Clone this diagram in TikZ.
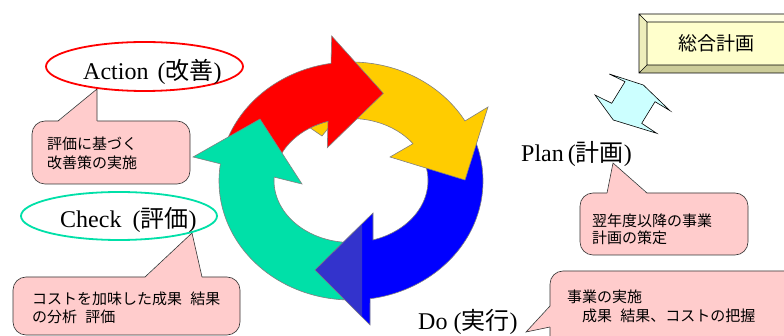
\documentclass[tikz,border=0pt]{standalone}
\usepackage{fontspec}
\setmainfont{Liberation Serif}
\newfontfamily\jp{Noto Sans CJK JP}
\definecolor{ared}{HTML}{FF0000}
\definecolor{ayellow}{HTML}{FFCC00}
\definecolor{ablue}{HTML}{0000FF}
\definecolor{adarkblue}{HTML}{3333CC}
\definecolor{agreen}{HTML}{00E0A8}
\definecolor{outl}{HTML}{808080}
\definecolor{pinkfill}{HTML}{FFCCCC}
\definecolor{cyanfill}{HTML}{CCFFFF}
\definecolor{bevface}{HTML}{FFFFCC}
\definecolor{bevlight}{HTML}{FFFFE2}
\definecolor{bevside}{HTML}{EEEEBB}
\definecolor{bevdark}{HTML}{CCCC99}
\newcommand\ox{351+132*cos(\myang)}
\newcommand\oy{181+119*sin(\myang)}
\newcommand\ix{351+77*cos(\myang)}
\newcommand\iy{180.5+62*sin(\myang)}
\newcommand\gap{\hspace{0.55em}}
\begin{document}
\begin{tikzpicture}[x=1pt,y=-1pt,
  ring/.style={draw=outl,line width=0.6pt,line join=miter},
  arcs/.style={domain=#1,samples=60,variable=\myang},
  callout/.style={fill=pinkfill,draw=black!80,line width=0.6pt,rounded corners=13},
  cline/.style={draw=black!80,line width=0.6pt,line join=miter},
  ctext/.style={font=\jp\fontsize{15}{18}\selectfont,anchor=west,inner sep=0pt},
  biglabel/.style={font=\fontsize{24}{28}\selectfont,anchor=base west,inner sep=0pt}]
\useasboundingbox (0,0) rectangle (784,336);
\clip (0,0) rectangle (784,336);
\fill[white] (0,0) rectangle (784,336);

% ---------- callouts ----------
\draw[callout] (32,121) rectangle (190,184);
\fill[pinkfill] (58,121.9) -- (97,89) -- (97,121.9) -- cycle;
\draw[cline] (58,121) -- (97,89) -- (97,121);
\node[ctext] (c1a) at (47,144) {評価に基づく};
\node[ctext] (c1b) at (47,163) {改善策の実施};

\draw[callout] (13,277) rectangle (240,335);
\fill[pinkfill] (145,277.9) -- (192,233) -- (202,277.9) -- cycle;
\draw[cline] (145,277) -- (192,233) -- (202,277);
\node[ctext] (c2a) at (32,299) {コストを加味した成果\gap 結果};
\node[ctext] (c2b) at (32,317) {の分析\gap 評価};

\draw[callout] (580,193) rectangle (748,255);
\fill[pinkfill] (607,193.9) -- (613,163) -- (647,193.9) -- cycle;
\draw[cline] (607,193) -- (613,163) -- (647,193);
\node[ctext] (c3a) at (592,221) {翌年度以降の事業};
\node[ctext] (c3b) at (592,238) {計画の策定};

\draw[callout] (550,271) rectangle (800,352);
\fill[pinkfill] (550.9,306) -- (526,332) -- (550.9,327) -- cycle;
\draw[cline] (550,306) -- (526,332) -- (550,327);
\node[ctext] (c4a) at (567,297) {事業の実施};
\node[ctext] (c4b) at (582,316) {成果\gap 結果、コストの把握};

% ---------- ellipses and labels ----------
\draw[ared,line width=1.8pt] (144.5,66.5) ellipse [x radius=98.5, y radius=24.5];
\draw[agreen,line width=1.8pt] (119,216) ellipse [x radius=98, y radius=24];
\node[biglabel] (act) at (83,80) {Action\hspace{9pt}({\jp 改善})};
\node[biglabel] (chk) at (60,228) {Check\hspace{11pt}({\jp 評価})};
\node[biglabel] (pln) at (521,162) {Plan\hspace{4pt}({\jp 計画})};
\node[biglabel] (doo) at (418,330) {Do ({\jp 実行})};

% ---------- cycle arrows ----------
% green body
\filldraw[ring,fill=agreen] plot[arcs=88:192] ({\ox},{\oy}) -- plot[arcs=186:87] ({\ix},{\iy}) -- cycle;
% blue
\fill[ablue] plot[arcs=-20.2:81.7] ({\ox},{\oy}) -- (370,325) -- (315,270) -- (373,213) -- plot[arcs=73.4:-14.5] ({\ix},{\iy}) -- cycle;
\fill[adarkblue] (315,270) -- (362,224) -- (362,317) -- cycle;
\draw[ring] plot[arcs=-20.2:81.7] ({\ox},{\oy}) -- (370,325) -- (315,270) -- (373,213) -- plot[arcs=73.4:-14.5] ({\ix},{\iy}) -- cycle;
% yellow
\filldraw[ring,fill=ayellow] plot[arcs=265:329.7] ({\ox},{\oy}) -- (488,107) -- (465,180) -- (390,157) -- plot[arcs=323.6:238] ({\ix},{\iy}) -- (322,136) -- (335,120) -- cycle;
% red
\filldraw[ring,fill=ared] plot[arcs=198:261.3] ({\ox},{\oy}) -- (331.7,36) -- (383.3,93.3) -- (327.3,147.7) -- plot[arcs=252.6:200] ({\ix},{\iy}) -- cycle;
% green head
\fill[agreen] (193,157) -- (260,119) -- (302,184) -- cycle;
\draw[ring] (220.4,163.8) -- (193,157) -- (260,119) -- (302,184) -- (274.1,177.1);

% ---------- bevel box ----------
\fill[bevlight] (639,14) -- (793,14) -- (785,22) -- (647,22) -- cycle;
\fill[bevside] (639,14) -- (647,22) -- (647,65) -- (639,73) -- cycle;
\fill[bevdark] (639,73) -- (647,65) -- (785,65) -- (793,73) -- cycle;
\fill[bevface] (647,22) rectangle (785,65);
\draw[black,line width=0.6pt] (639,14) rectangle (793,73) (647,22) rectangle (785,65)
  (639,14) -- (647,22) (639,73) -- (647,65);
\node[font=\jp\fontsize{19}{21}\selectfont,inner sep=0pt] (sogo) at (716,43) {総合計画};

% ---------- double arrow ----------
\filldraw[fill=cyanfill,draw=black,line width=0.6pt,line join=miter]
  (643.3,85) -- (670,110.7) -- (655,101.7) -- (641.7,123.3) -- (656.7,133.3) -- (613.3,120)
  -- (595,95) -- (611.7,103.3) -- (625,81.7) -- (609.3,74) -- cycle;
\end{tikzpicture}
\end{document}
